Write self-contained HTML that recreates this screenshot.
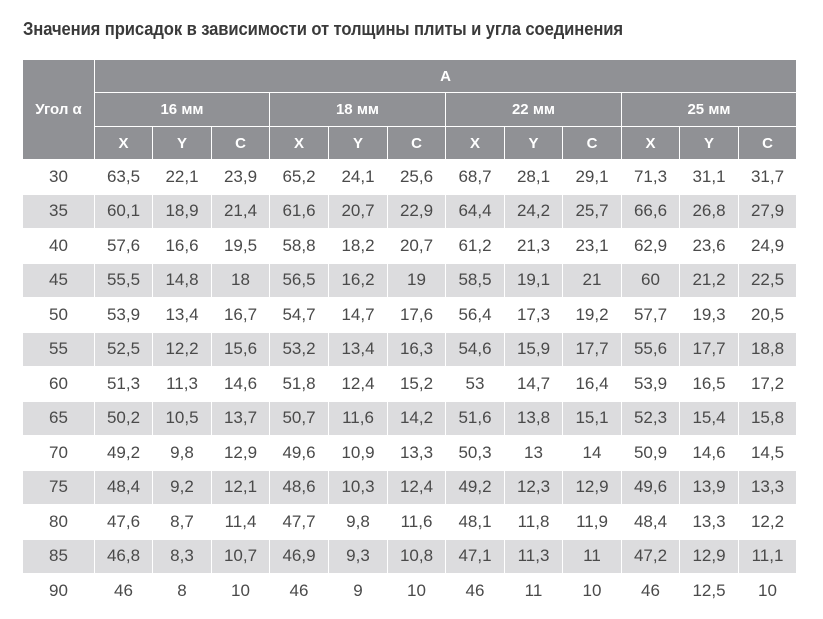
<!DOCTYPE html>
<html>
<head>
<meta charset="utf-8">
<style>
  html, body { margin:0; padding:0; background:#fff; }
  body { width:823px; height:619px; position:relative; overflow:hidden; font-family:"Liberation Sans", "Noto Sans CJK SC", sans-serif; }
  .title { position:absolute; left:23px; top:19px; font-size:18px; line-height:21px; font-weight:bold; color:#3a3a3a; white-space:nowrap; letter-spacing:-0.1px; transform-origin:0 0; transform:scaleX(0.922); }
  .grid { position:absolute; left:23px; top:60px; width:773px; display:grid;
    grid-template-columns: 71px 57px 58px 57px 58px 58px 57px 58px 57px 58px 57px 58px 57px;
    grid-template-rows: 32px 33px 32px repeat(13, 33.5px);
    column-gap:1px; row-gap:1px; background:#fff; }
  .grid > div { display:flex; align-items:center; justify-content:center; }
  .h { background:#909195; color:#fff; font-weight:bold; font-size:15px; }
  .d { color:#4a4a4a; font-size:17px; }
  .s { background:#dcdcde; }
</style>
</head>
<body>
<div class="title">Значения присадок в зависимости от толщины плиты и угла соединения</div>
<div class="grid">
  <div class="h" style="grid-column:1;grid-row:1 / span 3;">Угол α</div>
  <div class="h" style="grid-column:2 / span 12;grid-row:1;">А</div>
  <div class="h" style="grid-column:2 / span 3;grid-row:2;">16 мм</div>
  <div class="h" style="grid-column:5 / span 3;grid-row:2;">18 мм</div>
  <div class="h" style="grid-column:8 / span 3;grid-row:2;">22 мм</div>
  <div class="h" style="grid-column:11 / span 3;grid-row:2;">25 мм</div>
  <div class="h" style="grid-column:2;grid-row:3;">X</div>
  <div class="h" style="grid-column:3;grid-row:3;">Y</div>
  <div class="h" style="grid-column:4;grid-row:3;">C</div>
  <div class="h" style="grid-column:5;grid-row:3;">X</div>
  <div class="h" style="grid-column:6;grid-row:3;">Y</div>
  <div class="h" style="grid-column:7;grid-row:3;">C</div>
  <div class="h" style="grid-column:8;grid-row:3;">X</div>
  <div class="h" style="grid-column:9;grid-row:3;">Y</div>
  <div class="h" style="grid-column:10;grid-row:3;">C</div>
  <div class="h" style="grid-column:11;grid-row:3;">X</div>
  <div class="h" style="grid-column:12;grid-row:3;">Y</div>
  <div class="h" style="grid-column:13;grid-row:3;">C</div>

  <div class="d">30</div><div class="d">63,5</div><div class="d">22,1</div><div class="d">23,9</div><div class="d">65,2</div><div class="d">24,1</div><div class="d">25,6</div><div class="d">68,7</div><div class="d">28,1</div><div class="d">29,1</div><div class="d">71,3</div><div class="d">31,1</div><div class="d">31,7</div>
  <div class="d s">35</div><div class="d s">60,1</div><div class="d s">18,9</div><div class="d s">21,4</div><div class="d s">61,6</div><div class="d s">20,7</div><div class="d s">22,9</div><div class="d s">64,4</div><div class="d s">24,2</div><div class="d s">25,7</div><div class="d s">66,6</div><div class="d s">26,8</div><div class="d s">27,9</div>
  <div class="d">40</div><div class="d">57,6</div><div class="d">16,6</div><div class="d">19,5</div><div class="d">58,8</div><div class="d">18,2</div><div class="d">20,7</div><div class="d">61,2</div><div class="d">21,3</div><div class="d">23,1</div><div class="d">62,9</div><div class="d">23,6</div><div class="d">24,9</div>
  <div class="d s">45</div><div class="d s">55,5</div><div class="d s">14,8</div><div class="d s">18</div><div class="d s">56,5</div><div class="d s">16,2</div><div class="d s">19</div><div class="d s">58,5</div><div class="d s">19,1</div><div class="d s">21</div><div class="d s">60</div><div class="d s">21,2</div><div class="d s">22,5</div>
  <div class="d">50</div><div class="d">53,9</div><div class="d">13,4</div><div class="d">16,7</div><div class="d">54,7</div><div class="d">14,7</div><div class="d">17,6</div><div class="d">56,4</div><div class="d">17,3</div><div class="d">19,2</div><div class="d">57,7</div><div class="d">19,3</div><div class="d">20,5</div>
  <div class="d s">55</div><div class="d s">52,5</div><div class="d s">12,2</div><div class="d s">15,6</div><div class="d s">53,2</div><div class="d s">13,4</div><div class="d s">16,3</div><div class="d s">54,6</div><div class="d s">15,9</div><div class="d s">17,7</div><div class="d s">55,6</div><div class="d s">17,7</div><div class="d s">18,8</div>
  <div class="d">60</div><div class="d">51,3</div><div class="d">11,3</div><div class="d">14,6</div><div class="d">51,8</div><div class="d">12,4</div><div class="d">15,2</div><div class="d">53</div><div class="d">14,7</div><div class="d">16,4</div><div class="d">53,9</div><div class="d">16,5</div><div class="d">17,2</div>
  <div class="d s">65</div><div class="d s">50,2</div><div class="d s">10,5</div><div class="d s">13,7</div><div class="d s">50,7</div><div class="d s">11,6</div><div class="d s">14,2</div><div class="d s">51,6</div><div class="d s">13,8</div><div class="d s">15,1</div><div class="d s">52,3</div><div class="d s">15,4</div><div class="d s">15,8</div>
  <div class="d">70</div><div class="d">49,2</div><div class="d">9,8</div><div class="d">12,9</div><div class="d">49,6</div><div class="d">10,9</div><div class="d">13,3</div><div class="d">50,3</div><div class="d">13</div><div class="d">14</div><div class="d">50,9</div><div class="d">14,6</div><div class="d">14,5</div>
  <div class="d s">75</div><div class="d s">48,4</div><div class="d s">9,2</div><div class="d s">12,1</div><div class="d s">48,6</div><div class="d s">10,3</div><div class="d s">12,4</div><div class="d s">49,2</div><div class="d s">12,3</div><div class="d s">12,9</div><div class="d s">49,6</div><div class="d s">13,9</div><div class="d s">13,3</div>
  <div class="d">80</div><div class="d">47,6</div><div class="d">8,7</div><div class="d">11,4</div><div class="d">47,7</div><div class="d">9,8</div><div class="d">11,6</div><div class="d">48,1</div><div class="d">11,8</div><div class="d">11,9</div><div class="d">48,4</div><div class="d">13,3</div><div class="d">12,2</div>
  <div class="d s">85</div><div class="d s">46,8</div><div class="d s">8,3</div><div class="d s">10,7</div><div class="d s">46,9</div><div class="d s">9,3</div><div class="d s">10,8</div><div class="d s">47,1</div><div class="d s">11,3</div><div class="d s">11</div><div class="d s">47,2</div><div class="d s">12,9</div><div class="d s">11,1</div>
  <div class="d">90</div><div class="d">46</div><div class="d">8</div><div class="d">10</div><div class="d">46</div><div class="d">9</div><div class="d">10</div><div class="d">46</div><div class="d">11</div><div class="d">10</div><div class="d">46</div><div class="d">12,5</div><div class="d">10</div>
</div>
</body>
</html>
